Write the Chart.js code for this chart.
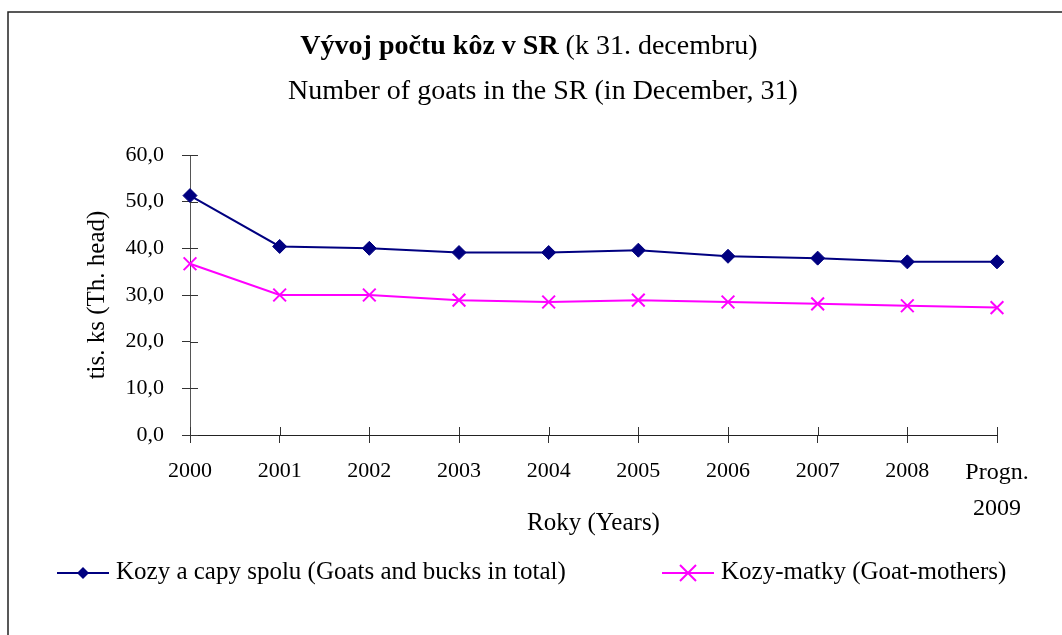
<!DOCTYPE html>
<html>
<head>
<meta charset="utf-8">
<script src="https://cdn.jsdelivr.net/npm/chart.js@4.4.1/dist/chart.umd.min.js"></script>
<style>
html, body { margin: 0; padding: 0; background: #fff; }
#wrap { width: 1062px; height: 635px; }
</style>
</head>
<body>
<div id="wrap"><canvas id="chart" width="1062" height="635"></canvas></div>
<script>
// values (thousand head)
const years = ['2000', '2001', '2002', '2003', '2004', '2005', '2006', '2007', '2008', ['Progn.', '2009']];
const goatsTotal = [51.3, 40.4, 40.0, 39.1, 39.1, 39.6, 38.3, 37.9, 37.1, 37.1];
const goatMothers = [36.7, 30.0, 30.0, 28.9, 28.5, 28.9, 28.5, 28.1, 27.7, 27.3];
const yTickLabels = ['0,0', '10,0', '20,0', '30,0', '40,0', '50,0', '60,0'];

const titleBold = 'Vývoj počtu kôz v SR';
const titleRest = ' (k 31. decembru)';
const subtitle = 'Number of goats in the SR (in December, 31)';
const seriesNames = ['Kozy a capy spolu (Goats and bucks in total)', 'Kozy-matky (Goat-mothers)'];

const SERIF = '"Liberation Serif", "Times New Roman", serif';
Chart.defaults.font.family = SERIF;
Chart.defaults.font.size = 22;
Chart.defaults.color = '#000';

function drawDiamond(ctx, x, y, r, color){
  ctx.fillStyle = color;
  ctx.beginPath();
  ctx.moveTo(x, y - r); ctx.lineTo(x + r, y); ctx.lineTo(x, y + r); ctx.lineTo(x - r, y);
  ctx.closePath(); ctx.fill();
}
function drawX(ctx, x, y, r, color){
  ctx.strokeStyle = color; ctx.lineWidth = 2;
  ctx.beginPath();
  ctx.moveTo(x - r, y - r); ctx.lineTo(x + r, y + r);
  ctx.moveTo(x + r, y - r); ctx.lineTo(x - r, y + r);
  ctx.stroke();
}

const decor = {
  id: 'decor',
  beforeDraw(chart){
    const ctx = chart.ctx;
    ctx.save();
    ctx.fillStyle = '#fff';
    ctx.fillRect(0, 0, chart.width, chart.height);
    ctx.strokeStyle = '#222'; ctx.lineWidth = 1.5;
    ctx.beginPath();
    ctx.moveTo(8, chart.height); ctx.lineTo(8, 12); ctx.lineTo(chart.width, 12);
    ctx.stroke();
    ctx.restore();
  },
  afterDraw(chart){
    const ctx = chart.ctx;
    const area = chart.chartArea;
    ctx.save();
    // title, bold part + plain part on one line
    ctx.fillStyle = '#000';
    ctx.textBaseline = 'middle';
    ctx.font = 'bold 28px ' + SERIF;
    const wb = ctx.measureText(titleBold).width;
    ctx.font = '28px ' + SERIF;
    const wr = ctx.measureText(titleRest).width;
    let x0 = 529 - (wb + wr) / 2;
    ctx.textAlign = 'left';
    ctx.font = 'bold 28px ' + SERIF;
    ctx.fillText(titleBold, x0, 47);
    ctx.font = '28px ' + SERIF;
    ctx.fillText(titleRest, x0 + wb, 47);
    ctx.textAlign = 'center';
    ctx.fillText(subtitle, 543, 92);

    // inner halves of the tick marks
    ctx.strokeStyle = '#333'; ctx.lineWidth = 1;
    ctx.beginPath();
    const ys = chart.scales.y, xs = chart.scales.x;
    ys.ticks.forEach((t, i) => { const p = Math.round(ys.getPixelForTick(i)) + 0.5; ctx.moveTo(area.left, p); ctx.lineTo(area.left + 8, p); });
    xs.ticks.forEach((t, i) => { const p = Math.round(xs.getPixelForTick(i)) + 0.5; ctx.moveTo(p, area.bottom); ctx.lineTo(p, area.bottom - 8); });
    ctx.stroke();

    // legend
    const ly = 573;
    const items = [{x: 57, ds: chart.data.datasets[0]}, {x: 662, ds: chart.data.datasets[1]}];
    ctx.font = '25px ' + SERIF;
    ctx.textAlign = 'left';
    items.forEach((it, i) => {
      ctx.strokeStyle = it.ds.borderColor; ctx.lineWidth = 2;
      ctx.beginPath(); ctx.moveTo(it.x, ly); ctx.lineTo(it.x + 52, ly); ctx.stroke();
      if (i === 0) drawDiamond(ctx, it.x + 26, ly, 6, it.ds.borderColor);
      else drawX(ctx, it.x + 26, ly, 8, it.ds.borderColor);
      ctx.fillStyle = '#000';
      ctx.fillText(it.ds.label, it.x + 59, ly - 1);
    });
    ctx.restore();
  }
};

new Chart(document.getElementById('chart'), {
  type: 'line',
  data: {
    labels: years,
    datasets: [
      { label: seriesNames[0], data: goatsTotal, borderColor: '#000080', backgroundColor: '#000080',
        borderWidth: 2, pointStyle: 'rectRot', pointRadius: 7, pointBorderWidth: 1, clip: false },
      { label: seriesNames[1], data: goatMothers, borderColor: '#FF00FF', backgroundColor: '#FF00FF',
        borderWidth: 2, pointStyle: 'crossRot', pointRadius: 9, pointBorderWidth: 2, clip: false }
    ]
  },
  options: {
    responsive: false,
    animation: false,
    layout: { padding: { top: 155, right: 65, bottom: 97, left: 0 } },
    plugins: { legend: { display: false }, tooltip: { enabled: false } },
    elements: { line: { tension: 0 } },
    scales: {
      x: {
        offset: false,
        grid: { display: true, drawOnChartArea: false, drawTicks: true, tickLength: 8, tickColor: '#333' },
        border: { color: '#222', width: 1 },
        ticks: { padding: 12, maxRotation: 0, autoSkip: false,
                 font: (c) => ({ size: c.index === 9 ? 24 : 22, lineHeight: 1.5 }) },
        title: { display: true, text: 'Roky (Years)', font: { size: 25 }, padding: { top: 0, bottom: 0 } },
        afterFit(scale){ scale.height = 103; }
      },
      y: {
        min: 0, max: 60,
        ticks: { stepSize: 10, padding: 18, font: { size: 22 }, callback: (v, i) => yTickLabels[i] },
        grid: { display: true, drawOnChartArea: false, drawTicks: true, tickLength: 8, tickColor: '#333' },
        border: { color: '#555', width: 1 },
        title: { display: true, text: 'tis. ks (Th. head)', font: { size: 25 }, padding: { top: 82, bottom: 0 } },
        afterFit(scale){ scale.width = 190; }
      }
    }
  },
  plugins: [decor]
});
</script>
</body>
</html>
